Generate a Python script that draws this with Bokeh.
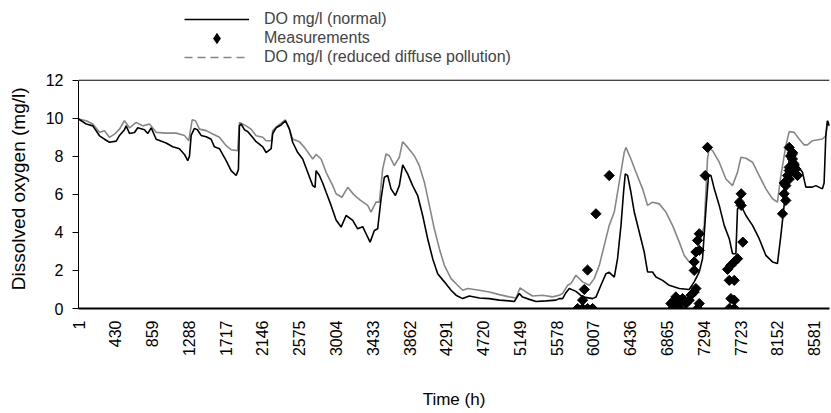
import numpy as np
from bokeh.plotting import figure
from bokeh.models import FixedTicker, Legend, LegendItem, Range1d, Span
from bokeh.embed import file_html
from bokeh.resources import INLINE

# ---------------- data ----------------
hours_normal = [1, 91, 168, 246, 304, 362, 441, 479, 537, 557, 596, 654, 692, 770, 809, 849,
                907, 1023, 1100, 1178, 1237, 1275, 1295, 1315, 1353, 1388, 1431, 1490, 1548,
                1586, 1645, 1723, 1781, 1840, 1866, 1878, 1898, 1936, 1975, 2014, 2073, 2150,
                2189, 2248, 2266, 2306, 2364, 2414, 2461, 2499, 2558, 2616, 2674, 2733, 2760,
                2772, 2811, 2849, 2889, 2947, 3005, 3064, 3122, 3180, 3199, 3257, 3316, 3355,
                3402, 3452, 3490, 3530, 3568, 3607, 3646, 3697, 3743, 3782, 3840, 3898, 3957,
                4015, 4073, 4132, 4190, 4268, 4346, 4404, 4481, 4559, 4676, 4792, 4909, 5026,
                5084, 5142, 5181, 5259, 5337, 5454, 5570, 5608, 5647, 5686, 5725, 5803, 5880,
                5997, 6036, 6094, 6153, 6191, 6250, 6288, 6328, 6358, 6378, 6405, 6444, 6483,
                6541, 6599, 6638, 6696, 6736, 6813, 6891, 7008, 7124, 7182, 7241, 7279, 7319,
                7349, 7377, 7416, 7474, 7532, 7591, 7629, 7668, 7687, 7727, 7785, 7862, 7940,
                8018, 8095, 8153, 8193, 8231, 8290, 8328, 8387, 8445, 8484, 8561, 8600, 8677,
                8697, 8717, 8736, 8760]
do_normal = [9.96, 9.7, 9.6, 9.08, 8.9, 8.74, 8.8, 9.1, 9.4, 9.6, 9.2, 9.25, 9.5, 9.4, 9.2, 9.5,
             8.9, 8.7, 8.5, 8.4, 8.1, 7.77, 8.0, 9.1, 9.47, 9.4, 9.1, 9.03, 8.9,
             8.5, 8.4, 7.77, 7.25, 6.99, 7.3, 9.6, 9.7, 9.4, 9.3, 9.1, 8.77, 8.5,
             8.2, 8.4, 9.2, 9.5, 9.65, 9.87, 9.43, 8.74, 8.2, 7.86, 7.16, 6.46, 6.37,
             7.25, 6.99, 6.6, 6.11, 5.42, 4.65, 4.28, 4.89, 4.7, 4.63, 4.19, 4.3, 3.93,
             3.49, 4.1, 4.19, 5.77, 6.9, 6.99, 6.29, 5.94, 6.46, 7.55, 7.08, 6.46, 5.94,
             4.89, 3.67, 2.62, 1.83, 1.4, 0.96, 0.7, 0.52, 0.66, 0.55, 0.52, 0.44, 0.4,
             0.37, 0.79, 0.6, 0.48, 0.37, 0.4, 0.44, 0.52, 0.52, 0.83, 1.05, 0.9, 0.61,
             0.52, 0.6, 1.22, 1.83, 1.9, 1.65, 2.62, 4.37, 6.11, 7.08, 7.0, 6.11, 5.07,
             4.02, 2.97, 1.92, 1.92, 1.66, 1.48, 1.22, 1.05, 1.0, 1.4, 1.92, 2.62, 5.24,
             6.99, 7.0, 6.29, 5.42, 4.37, 3.67, 2.88, 2.88, 5.24, 5.42, 4.89, 4.37, 3.67,
             2.79, 2.45, 2.36, 3.84, 5.42, 7.86, 8.04, 7.51, 7.16, 6.38, 6.38, 6.46, 6.29,
             6.6, 9.08, 9.87, 9.6]

hours_reduced = [1, 91, 168, 246, 304, 362, 421, 479, 537, 596, 674, 751, 829, 907, 1023, 1140,
                 1237, 1287, 1327, 1365, 1412, 1490, 1567, 1645, 1723, 1781, 1858, 1878, 1956,
                 2014, 2073, 2150, 2189, 2254, 2266, 2324, 2414, 2461, 2499, 2577, 2636, 2733,
                 2772, 2830, 2889, 2966, 3005, 3073, 3141, 3209, 3290, 3374, 3413, 3471, 3510,
                 3549, 3588, 3627, 3685, 3743, 3782, 3840, 3918, 3976, 4035, 4093, 4151, 4210,
                 4268, 4346, 4423, 4481, 4540, 4676, 4792, 4909, 5026, 5104, 5150, 5220, 5297,
                 5414, 5530, 5608, 5647, 5705, 5744, 5803, 5880, 5958, 6016, 6075, 6133, 6191,
                 6250, 6308, 6366, 6386, 6444, 6503, 6580, 6638, 6696, 6774, 6852, 6929, 7008,
                 7066, 7124, 7182, 7241, 7299, 7337, 7357, 7396, 7474, 7552, 7629, 7687, 7727,
                 7785, 7862, 7940, 8018, 8095, 8153, 8193, 8251, 8290, 8348, 8406, 8465, 8503,
                 8561, 8677, 8717, 8736, 8760]
do_reduced = [9.96, 9.87, 9.7, 9.26, 9.35, 9.0, 9.17, 9.43, 9.87, 9.5, 9.78, 9.6, 9.7, 9.26, 9.22, 9.22,
              9.1, 8.82, 9.92, 9.87, 9.43, 9.35, 9.17, 9.0, 8.56, 8.35, 8.3, 9.78, 9.6,
              9.43, 9.08, 9.0, 8.82, 8.82, 9.35, 9.6, 9.92, 9.43, 8.91, 8.77, 8.47, 7.86,
              8.1, 7.86, 7.16, 6.46, 6.03, 5.85, 6.37, 6.0, 5.68, 5.42, 5.07, 5.59, 5.59,
              7.34, 8.12, 8.03, 7.51, 7.95, 8.77, 8.47, 8.03, 7.51, 6.64, 5.42, 4.19, 3.14,
              2.27, 1.57, 1.22, 0.96, 1.05, 0.96, 0.87, 0.73, 0.61, 0.55, 1.08, 0.87, 0.66,
              0.7, 0.61, 0.7, 0.79, 1.22, 1.31, 1.75, 1.4, 1.22, 1.57, 2.27, 3.32, 4.37,
              5.07, 6.64, 8.21, 8.47, 7.86, 7.16, 6.29, 5.42, 5.59, 5.5, 5.07, 4.37, 3.49,
              2.79, 2.45, 2.62, 3.32, 4.37, 7.86, 8.39, 8.3, 7.69, 6.81, 6.46, 7.16, 7.95,
              7.9, 7.69, 6.99, 6.29, 5.77, 5.59, 6.99, 8.56, 9.3, 9.26, 8.91, 8.6, 8.6,
              8.82, 8.91, 9.08, 9.87, 9.6]

meas_hours = [5823, 5880, 5938, 5997, 5880, 5900, 5938, 6036, 6191,
              6910, 6929, 6949, 6968, 6988, 7008, 7027, 7046, 7085, 7124, 7143, 7182, 7202,
              7221, 7241, 7182, 7182, 7202, 7241, 7221, 7241, 7310, 7337,
              7591, 7649, 7610, 7649, 7591, 7649, 7571, 7610, 7649, 7688, 7749, 7730, 7710, 7730,
              8212, 8231, 8251, 8251, 8231, 8270, 8290, 8290, 8290, 8309, 8309, 8309, 8328,
              8328, 8328, 8348, 8348, 8367, 8367, 8387, 8290]
meas_do = [0.0, 0.0, 0.0, 0.0, 0.44, 1.0, 2.02, 4.98, 6.99,
           0.26, 0.0, 0.44, 0.61, 0.17, 0.0, 0.35, 0.52, 0.26, 0.44, 0.7, 0.87, 1.05,
           0.0, 0.26, 2.0, 2.45, 2.97, 3.06, 3.58, 3.93, 6.99, 8.47,
           0.0, 0.0, 0.52, 0.44, 1.48, 1.48, 2.06, 2.27, 2.45, 2.62, 3.49, 5.42, 5.59, 6.03,
           4.98, 6.03, 5.68, 6.46, 6.6, 6.99, 7.25, 7.42, 8.47, 8.03, 8.0, 7.16, 7.86,
           8.2, 8.13, 7.5, 7.6, 7.08, 7.34, 6.99, 6.8]

x_tick_labels = [1, 430, 859, 1288, 1717, 2146, 2575, 3004, 3433, 3862, 4291, 4720, 5149,
                 5578, 6007, 6436, 6865, 7294, 7723, 8152, 8581]
y_ticks = [0, 2, 4, 6, 8, 10, 12]
y_max = 12

FONT = "Liberation Sans"
GRAY = "#878787"

# layout (pixels)
W, H = 830, 412
LEFT, BOTTOM, RIGHT = 78, 103, 1
AXIS_PX = 229  # pixel height of the 0..12 plot box
frame_h = H - BOTTOM
y_top = y_max * frame_h / AXIS_PX  # frame extends above the plot box to host the legend

p = figure(width=W, height=H, output_backend="svg", toolbar_location=None,
           x_range=Range1d(1, 8760), y_range=Range1d(0, y_top),
           min_border_left=LEFT, min_border_right=RIGHT, min_border_top=0,
           min_border_bottom=BOTTOM)
p.xgrid.grid_line_color = None
p.ygrid.grid_line_color = None
p.outline_line_color = None
p.background_fill_color = "white"
p.border_fill_color = "white"

# top border of the plot box
p.add_layout(Span(location=y_max, dimension="width", line_color="black", line_width=1))

r_red = p.line(hours_reduced, do_reduced, line_color=GRAY, line_width=1.6)
r_norm = p.line(hours_normal, do_normal, line_color="black", line_width=1.6)
r_meas = p.scatter(meas_hours, meas_do, marker="square", angle=np.pi / 4, size=7.2,
                   fill_color="black", line_color="black")
# legend-only helpers (NaN data: nothing is drawn in the plot)
leg_meas = p.scatter([np.nan], [np.nan], marker="diamond", size=12,
                     fill_color="black", line_color="black", line_width=2.5,
                     line_join="miter")
leg_dash = p.line([np.nan, np.nan], [np.nan, np.nan], line_color=GRAY, line_width=1.6,
                  line_dash="8 5")

# axes
xa = p.xaxis[0]
xa.ticker = FixedTicker(ticks=x_tick_labels)
xa.major_label_orientation = np.pi / 2
xa.major_tick_out = 0
xa.major_tick_in = 0
xa.minor_tick_out = 0
xa.minor_tick_in = 0
xa.axis_line_width = 2
xa.axis_line_color = "black"
xa.major_label_standoff = 12
xa.major_label_text_font = FONT
xa.major_label_text_font_size = "16px"
xa.major_label_text_color = "black"
xa.axis_label = "Time (h)"
xa.axis_label_text_font = FONT
xa.axis_label_text_font_size = "17px"
xa.axis_label_text_font_style = "normal"
xa.axis_label_text_color = "black"
xa.axis_label_standoff = 31

ya = p.yaxis[0]
ya.ticker = FixedTicker(ticks=y_ticks)
ya.bounds = (0, y_max)
ya.major_tick_out = 6
ya.major_tick_in = 0
ya.minor_tick_out = 0
ya.minor_tick_in = 0
ya.axis_line_color = "black"
ya.axis_line_width = 1
ya.major_tick_line_color = "black"
ya.major_label_standoff = 9
ya.major_label_text_font = FONT
ya.major_label_text_font_size = "16px"
ya.major_label_text_color = "black"
# non-breaking spaces at the (upper) end keep the label centred on the 0..12 box
ya.axis_label = "Dissolved oxygen (mg/l)" + "\u00a0" * 13
ya.axis_label_text_font = FONT
ya.axis_label_text_font_size = "19px"
ya.axis_label_text_font_style = "normal"
ya.axis_label_text_color = "black"
ya.axis_label_standoff = 14

legend = Legend(items=[
    LegendItem(label="DO mg/l (normal)", renderers=[r_norm]),
    LegendItem(label="Measurements", renderers=[leg_meas]),
    LegendItem(label="DO mg/l (reduced diffuse pollution)", renderers=[leg_dash]),
], location=(106, 242), orientation="vertical")
legend.glyph_width = 65
legend.glyph_height = 18
legend.label_height = 18
legend.spacing = 1
legend.padding = 0
legend.margin = 0
legend.label_standoff = 15
legend.label_text_font = FONT
legend.label_text_font_size = "16px"
legend.border_line_color = None
legend.background_fill_alpha = 0
p.add_layout(legend)

open("out.html", "w").write(file_html(p, INLINE))
